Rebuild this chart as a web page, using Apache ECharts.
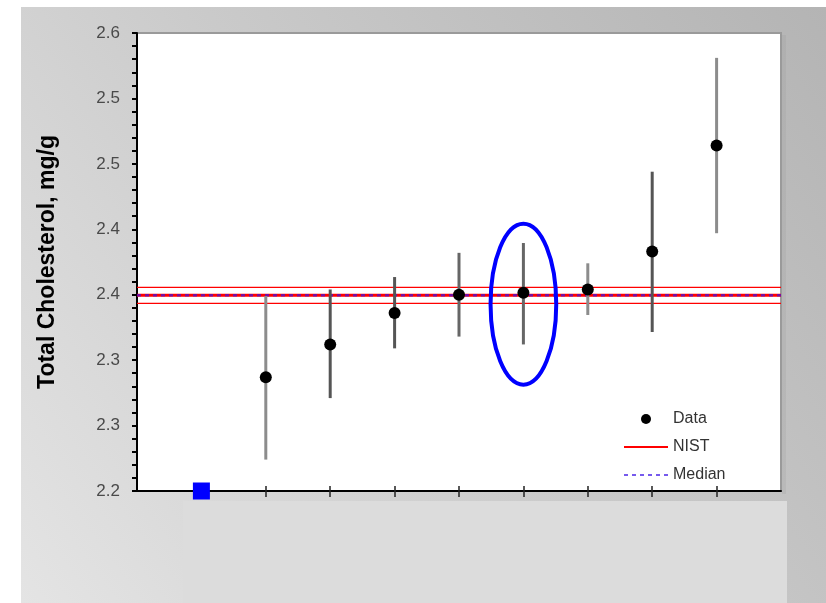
<!DOCTYPE html>
<html>
<head>
<meta charset="utf-8">
<script src="https://cdn.jsdelivr.net/npm/echarts@6/dist/echarts.min.js"></script>
<style>
  html, body { margin: 0; padding: 0; background: #ffffff; }
  #chart { width: 826px; height: 603px; }
</style>
</head>
<body>
<div id="chart"></div>
<script>
// Lab results: position on the x scale, mean and uncertainty range
const labX     = [2, 3, 4, 5, 6, 7, 8, 9];
const labMean  = [2.287, 2.312, 2.336, 2.350, 2.3515, 2.354, 2.383, 2.464];
const labLow   = [2.224, 2.271, 2.309, 2.318, 2.312, 2.3345, 2.3215, 2.397];
const labHigh  = [2.349, 2.354, 2.3635, 2.382, 2.3895, 2.374, 2.444, 2.531];

// Reference value, its uncertainty band and the consensus median
const nistValue = 2.3495;
const nistUnc   = 0.0061;
const medianValue = 2.3495;

// Reference material marker on the baseline
const refMarker = [[1, 2.2]];

// Highlighted result (index into the lab arrays)
const highlightIndex = 4;

// Axis ranges and tick labels
const xMin = 0, xMax = 10;
const yMin = 2.2, yMax = 2.55, yStep = 0.05;
const yTickLabels = ['2.2', '2.3', '2.3', '2.4', '2.4', '2.5', '2.5', '2.6'];

const barShades = ['#8c8c8c', '#555555', '#555555', '#666666', '#666666', '#8c8c8c', '#555555', '#8c8c8c'];

const chart = echarts.init(document.getElementById('chart'));

const points = labX.map((x, i) => [x, labMean[i]]);
const bars = labX.map((x, i) => [x, labLow[i], labHigh[i]]);

const option = {
  animation: false,
  textStyle: { fontFamily: 'Liberation Sans, Arial, sans-serif' },
  graphic: [
    {
      type: 'rect', z: -10, silent: true,
      shape: { x: 21, y: 7, width: 805, height: 596 },
      style: {
        fill: new echarts.graphic.LinearGradient(1, 0, 0, 1, [
          { offset: 0, color: '#b4b4b4' },
          { offset: 0.5, color: '#cacaca' },
          { offset: 1, color: '#e4e4e4' }
        ])
      }
    },
    {
      type: 'rect', z: -9, silent: true,
      shape: { x: 183, y: 501, width: 604, height: 102 },
      style: { fill: '#dcdcdc' }
    },
    {
      type: 'rect', z: -8, silent: true,
      shape: { x: 782, y: 35, width: 4, height: 459 },
      style: { fill: 'rgba(150,150,150,0.2)' }
    }
  ],
  grid: {
    left: 137, top: 33, right: 45, bottom: 112,
    show: true,
    backgroundColor: '#ffffff',
    borderColor: '#9a9a9a',
    borderWidth: 2
  },
  legend: {
    orient: 'vertical',
    left: 623,
    top: 411,
    padding: 0,
    itemWidth: 44,
    itemHeight: 10,
    itemGap: 12,
    textStyle: { fontSize: 16, color: '#333333', fontFamily: 'Liberation Sans, Arial, sans-serif' },
    data: [
      { name: 'Data', icon: 'circle', itemStyle: { opacity: 1 } },
      { name: 'NIST', itemStyle: { opacity: 0 } },
      { name: 'Median', itemStyle: { opacity: 0 } }
    ]
  },
  xAxis: [
    {
      type: 'value', min: xMin, max: xMax,
      splitLine: { show: false },
      axisLine: { show: true, onZero: false, lineStyle: { color: '#000000', width: 2 } },
      axisTick: { show: true, customValues: labX, length: 6, lineStyle: { color: '#222222', width: 1.5 } },
      axisLabel: { show: false }
    },
    {
      type: 'value', min: xMin, max: xMax, position: 'bottom',
      splitLine: { show: false },
      axisLine: { show: false },
      axisTick: { show: true, inside: true, customValues: labX, length: 5, lineStyle: { color: '#222222', width: 1.5 } },
      axisLabel: { show: false }
    }
  ],
  yAxis: {
    type: 'value', min: yMin, max: yMax, interval: yStep,
    name: 'Total Cholesterol, mg/g',
    nameLocation: 'middle',
    nameGap: 78,
    nameTextStyle: { fontSize: 23, fontWeight: 'bold', color: '#000000', fontFamily: 'Liberation Sans, Arial, sans-serif' },
    splitLine: { show: false },
    axisLine: { show: true, onZero: false, lineStyle: { color: '#000000', width: 2 } },
    axisTick: { show: true, length: 5, lineStyle: { color: '#000000', width: 2 } },
    minorTick: { show: true, splitNumber: 5, length: 5, lineStyle: { color: '#000000', width: 2 } },
    axisLabel: {
      margin: 17,
      fontSize: 17,
      color: '#4a4a4a',
      fontFamily: 'Liberation Sans, Arial, sans-serif',
      formatter: (v) => yTickLabels[Math.round((v - yMin) / yStep)]
    }
  },
  series: [
    {
      name: 'NIST band', type: 'line', silent: true, symbol: 'none', z: 3,
      lineStyle: { color: '#ff0000', width: 1.2 },
      data: [[xMin, nistValue + nistUnc], [xMax, nistValue + nistUnc]]
    },
    {
      name: 'NIST band low', type: 'line', silent: true, symbol: 'none', z: 3,
      lineStyle: { color: '#ff0000', width: 1.2 },
      data: [[xMin, nistValue - nistUnc], [xMax, nistValue - nistUnc]]
    },
    {
      name: 'NIST', type: 'line', symbol: 'none', z: 3,
      lineStyle: { color: '#ff0000', width: 3 },
      itemStyle: { color: '#ff0000' },
      data: [[xMin, nistValue], [xMax, nistValue]]
    },
    {
      name: 'Median', type: 'line', symbol: 'none', z: 4,
      lineStyle: { color: 'rgba(60,20,230,0.7)', width: 2.5, type: [4, 4] },
      itemStyle: { color: '#2a2aff' },
      data: [[xMin, medianValue], [xMax, medianValue]]
    },
    {
      name: 'Error bars', type: 'custom', z: 5,
      data: bars,
      renderItem: (params, api) => {
        const lo = api.coord([api.value(0), api.value(1)]);
        const hi = api.coord([api.value(0), api.value(2)]);
        return {
          type: 'line',
          shape: { x1: lo[0], y1: lo[1], x2: hi[0], y2: hi[1] },
          style: { stroke: barShades[params.dataIndex], lineWidth: 3 }
        };
      }
    },
    {
      name: 'Data', type: 'scatter', z: 6,
      symbol: 'circle', symbolSize: 12,
      itemStyle: { color: '#000000', opacity: 1 },
      data: points
    },
    {
      name: 'Highlight', type: 'custom', z: 7,
      data: [[labX[highlightIndex], (labLow[highlightIndex] + labHigh[highlightIndex]) / 2]],
      renderItem: (params, api) => {
        const c = api.coord([api.value(0), api.value(1) - 0.008]);
        const s = api.size([0.51, 0.0615]);
        return {
          type: 'ellipse',
          shape: { cx: c[0], cy: c[1], rx: s[0], ry: s[1] },
          style: { fill: 'none', stroke: '#0000ff', lineWidth: 4 }
        };
      }
    },
    {
      name: 'Reference', type: 'scatter', z: 10,
      symbol: 'rect', symbolSize: 17, clip: false,
      itemStyle: { color: '#0000ff', opacity: 1 },
      data: refMarker
    }
  ]
};

chart.setOption(option);
</script>
</body>
</html>
